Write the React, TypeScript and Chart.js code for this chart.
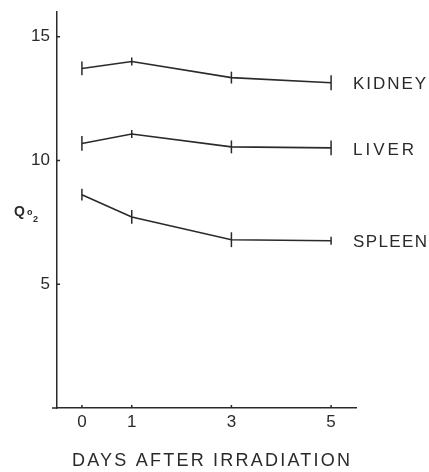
import React, { useEffect, useRef } from 'react';
import { Chart, registerables } from 'chart.js';

Chart.register(...registerables);

const days = [0, 1, 3, 5];
const kidney = [13.72, 14.0, 13.35, 13.14];
const liver = [10.69, 11.07, 10.55, 10.51];
const spleen = [8.62, 7.72, 6.8, 6.76];
const kidneyErr = [0.28, 0.16, 0.24, 0.3];
const liverErr = [0.3, 0.16, 0.26, 0.3];
const spleenErr = [0.24, 0.28, 0.3, 0.16];
const seriesNames = ['KIDNEY', 'LIVER', 'SPLEEN'];
const labelWidths = [73, 61, 74];
const yTicks = [5, 10, 15];
const xTicks = [0, 1, 3, 5];
const xTitle = 'DAYS AFTER IRRADIATION';
const yTitleMain = 'Q';
const yTitleSub1 = 'o';
const yTitleSub2 = '2';

const INK = '#2a2a2a';
const FONT = 'Liberation Sans, Arial, sans-serif';

function fitText(ctx: CanvasRenderingContext2D, text: string, x: number, y: number, width: number) {
  (ctx as any).letterSpacing = '0px';
  const w = ctx.measureText(text).width;
  const n = text.length;
  const sp = n > 1 ? (width - w) / (n - 1) : 0;
  (ctx as any).letterSpacing = sp + 'px';
  ctx.fillText(text, x, y);
  (ctx as any).letterSpacing = '0px';
}

const decorPlugin = {
  id: 'decor',
  afterDatasetsDraw(chart: any) {
    const ctx: CanvasRenderingContext2D = chart.ctx;
    const xs = chart.scales.x;
    const ys = chart.scales.y;
    const errs = [kidneyErr, liverErr, spleenErr];
    ctx.save();
    ctx.strokeStyle = INK;
    ctx.lineWidth = 1.5;
    chart.data.datasets.forEach((ds: any, di: number) => {
      ds.data.forEach((p: any, i: number) => {
        const e = errs[di][i];
        const px = xs.getPixelForValue(p.x);
        ctx.beginPath();
        ctx.moveTo(px, ys.getPixelForValue(p.y - e));
        ctx.lineTo(px, ys.getPixelForValue(p.y + e));
        ctx.stroke();
      });
    });
    const ca = chart.chartArea;
    yTicks.forEach((v) => {
      const py = ys.getPixelForValue(v);
      ctx.beginPath();
      ctx.moveTo(ca.left, py);
      ctx.lineTo(ca.left + 3, py);
      ctx.stroke();
    });
    xTicks.forEach((v) => {
      const px = xs.getPixelForValue(v);
      ctx.beginPath();
      ctx.moveTo(px, ca.bottom);
      ctx.lineTo(px, ca.bottom - 3);
      ctx.stroke();
    });
    ctx.beginPath();
    ctx.moveTo(ca.left - 5, ca.bottom);
    ctx.lineTo(ca.left, ca.bottom);
    ctx.stroke();

    ctx.fillStyle = INK;
    ctx.textBaseline = 'middle';
    ctx.textAlign = 'left';
    ctx.font = `17px ${FONT}`;
    chart.data.datasets.forEach((ds: any, di: number) => {
      const last = ds.data[ds.data.length - 1];
      const px = xs.getPixelForValue(last.x) + 22;
      const py = ys.getPixelForValue(last.y) + 2;
      fitText(ctx, seriesNames[di], px, py, labelWidths[di]);
    });

    ctx.font = `18px ${FONT}`;
    fitText(ctx, xTitle, 72, 461, 278);

    ctx.textBaseline = 'alphabetic';
    ctx.font = `bold 14px ${FONT}`;
    ctx.fillText(yTitleMain, 14, 216);
    ctx.font = `bold 9px ${FONT}`;
    ctx.fillText(yTitleSub1, 27, 215);
    ctx.fillText(yTitleSub2, 33, 222);
    ctx.restore();
  },
};

export default function App() {
  const ref = useRef<HTMLCanvasElement | null>(null);
  useEffect(() => {
    document.body.style.margin = '0';
    const canvas = ref.current;
    if (!canvas) return;
    const mk = (vals: number[]) => days.map((d, i) => ({ x: d, y: vals[i] }));
    const lineDs = (label: string, vals: number[]) => ({
      label,
      data: mk(vals),
      borderColor: INK,
      borderWidth: 1.6,
      pointRadius: 0,
      tension: 0,
      fill: false,
    });
    const chart = new Chart(canvas, {
      type: 'line',
      data: {
        datasets: [
          lineDs(seriesNames[0], kidney),
          lineDs(seriesNames[1], liver),
          lineDs(seriesNames[2], spleen),
        ],
      },
      options: {
        responsive: false,
        animation: false,
        layout: { padding: { top: 12, right: 73, left: 0, bottom: 0 } },
        plugins: { legend: { display: false }, tooltip: { enabled: false } },
        scales: {
          x: {
            type: 'linear',
            min: -0.5,
            max: 5.5,
            afterBuildTicks: (s: any) => {
              s.ticks = xTicks.map((v) => ({ value: v }));
            },
            afterFit: (s: any) => {
              s.height = 64;
              s.paddingLeft = 0;
              s.paddingRight = 0;
            },
            grid: { display: false, drawTicks: false },
            border: { display: true, color: INK, width: 1.5 },
            ticks: {
              padding: 4,
              color: INK,
              font: { size: 17, family: FONT },
              callback: (v: any) => String(v),
            },
          },
          y: {
            type: 'linear',
            min: 0,
            max: 16,
            afterBuildTicks: (s: any) => {
              s.ticks = yTicks.map((v) => ({ value: v }));
            },
            afterFit: (s: any) => {
              s.width = 57;
              s.paddingTop = 0;
              s.paddingBottom = 0;
            },
            grid: { display: false, drawTicks: false },
            border: { display: true, color: INK, width: 1.5 },
            ticks: {
              padding: 7,
              color: INK,
              font: { size: 17, family: FONT },
              callback: (v: any) => String(v),
            },
          },
        },
      },
      plugins: [decorPlugin],
    });
    return () => chart.destroy();
  }, []);
  return (
    <div style={{ width: 429, height: 472, background: '#fff' }}>
      <canvas ref={ref} width={429} height={472} style={{ display: 'block', width: 429, height: 472 }} />
    </div>
  );
}
